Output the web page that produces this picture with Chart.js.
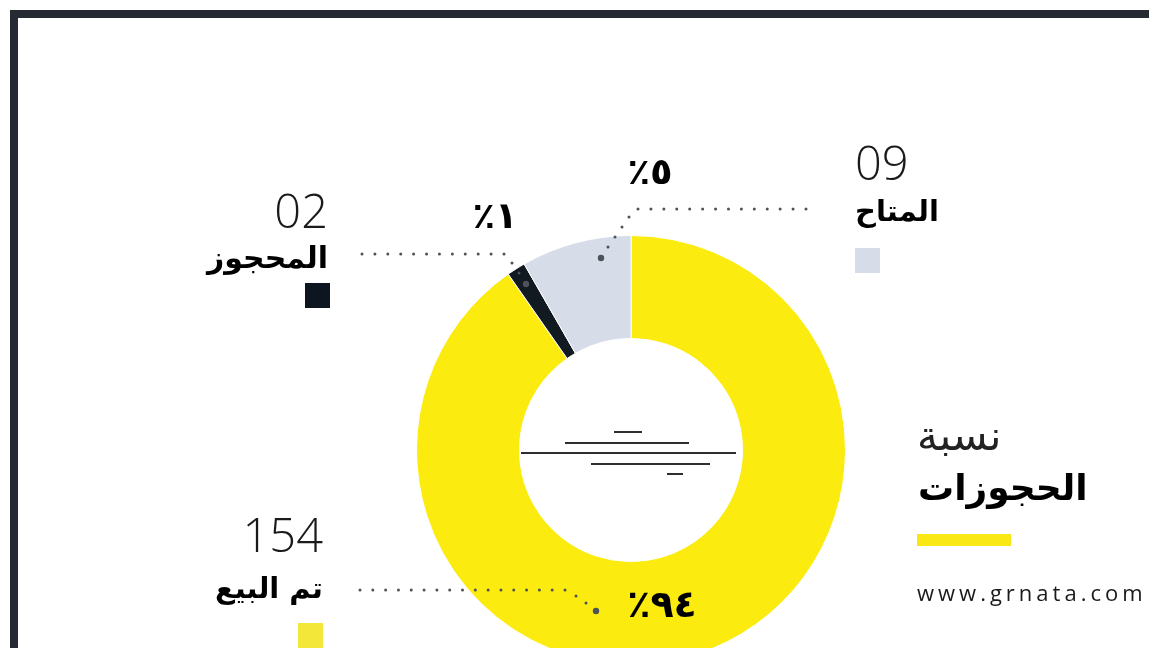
<!DOCTYPE html>
<html>
<head>
<meta charset="utf-8">
<script src="https://cdn.jsdelivr.net/npm/chart.js@4"></script>
<style>
  html, body { margin: 0; padding: 0; background: #fff; overflow: hidden; }
  #wrap { position: absolute; left: 0; top: 0; width: 1149px; height: 700px; }
</style>
</head>
<body>
<div id="wrap"><canvas id="chart"></canvas></div>
<script>
// data
const categories = ['تم البيع', 'المحجوز', 'المتاح'];
const counts = ['154', '02', '09'];
const percentLabels = ['٪٩٤', '٪١', '٪٥'];
// share of the ring each slice takes as drawn
const sliceShares = [90.3, 1.4, 8.3];
const sliceColors = ['#FBEB0E', '#111921', '#D6DCE8'];
const legendColors = ['#F3E839', '#0D1520', '#D6DCE8'];

const ARABIC = '"DejaVu Sans", sans-serif';
const LATIN = '"Open Sans", "DejaVu Sans", sans-serif';

// where each slice's legend block and leader sit
const legendLayout = [
  { x: 323, numY: 552, nameY: 598, nameSize: 29, align: 'right', sq: [298, 623], pct: [662, 605], pctSize: 38,
    dots: [[360, 590], [565, 590]], bend: [[576, 596], [586, 603]], end: [596, 611] },
  { x: 328, numY: 228, nameY: 268, nameSize: 30, align: 'right', sq: [305, 283], pct: [495, 216], pctSize: 37,
    dots: [[362, 254], [504, 254]], bend: [[512, 263], [519, 273]], end: [526, 284] },
  { x: 855, numY: 180, nameY: 221, nameSize: 29, align: 'left', sq: [855, 248], pct: [650, 172], pctSize: 37,
    dots: [[638, 209], [806, 209]], bend: [[629, 217], [622, 227], [615, 237], [608, 247]], end: [601, 258] }
];

const decor = {
  id: 'decor',
  afterDraw(chart) {
    const ctx = chart.ctx;
    ctx.save();

    // frame
    ctx.fillStyle = '#262B33';
    ctx.fillRect(10, 10, 1139, 8);
    ctx.fillRect(10, 10, 8, 700);

    // lines in the hole
    const arc = chart.getDatasetMeta(0).data[0];
    const cx = arc.x, cy = arc.y;
    ctx.strokeStyle = '#2E2E2E';
    ctx.lineWidth = 2;
    [[-17, 11, -18], [-66, 58, -7], [-110, 105, 3], [-40, 79, 14], [36, 52, 24]].forEach(l => {
      ctx.beginPath();
      ctx.moveTo(cx + l[0], cy + l[2]);
      ctx.lineTo(cx + l[1], cy + l[2]);
      ctx.stroke();
    });

    // legend blocks, leaders, percentages
    legendLayout.forEach((L, i) => {
      ctx.textAlign = L.align;
      ctx.textBaseline = 'alphabetic';
      ctx.fillStyle = '#1a1a1a';
      ctx.font = '300 47px ' + LATIN;
      ctx.fillText(counts[i], L.x, L.numY);
      ctx.fillStyle = '#000';
      ctx.font = 'bold ' + L.nameSize + 'px ' + ARABIC;
      ctx.fillText(categories[i], L.x, L.nameY);
      ctx.fillStyle = legendColors[i];
      ctx.fillRect(L.sq[0], L.sq[1], 25, 25);

      ctx.fillStyle = '#4d5258';
      const [a, b] = L.dots;
      const n = Math.round(Math.abs(b[0] - a[0]) / 12.8);
      for (let k = 0; k <= n; k++) {
        ctx.beginPath();
        ctx.arc(a[0] + (b[0] - a[0]) * k / n, a[1], 1.5, 0, Math.PI * 2);
        ctx.fill();
      }
      L.bend.forEach(p => {
        ctx.beginPath();
        ctx.arc(p[0], p[1], 1.5, 0, Math.PI * 2);
        ctx.fill();
      });
      ctx.beginPath();
      ctx.arc(L.end[0], L.end[1], 3.2, 0, Math.PI * 2);
      ctx.fill();

      ctx.fillStyle = '#000';
      ctx.textAlign = 'center';
      ctx.font = 'bold ' + L.pctSize + 'px ' + ARABIC;
      ctx.letterSpacing = '3px';
      ctx.fillText(percentLabels[i], L.pct[0], L.pct[1] + 12);
      ctx.letterSpacing = '0px';
    });

    // title block on the right
    ctx.textAlign = 'left';
    ctx.fillStyle = '#222';
    ctx.font = '42px ' + ARABIC;
    ctx.fillText('نسبة', 917, 450);
    ctx.fillStyle = '#000';
    ctx.font = 'bold 36px ' + ARABIC;
    ctx.fillText('الحجوزات', 918, 500);
    ctx.fillStyle = '#F9E814';
    ctx.fillRect(917, 534, 94, 12);
    ctx.fillStyle = '#1a1a1a';
    ctx.font = '22px ' + LATIN;
    ctx.letterSpacing = '4px';
    ctx.fillText('www.grnata.com', 917, 601);

    ctx.restore();
  }
};

new Chart(document.getElementById('chart'), {
  type: 'doughnut',
  data: {
    labels: categories,
    datasets: [{
      data: sliceShares,
      backgroundColor: sliceColors,
      borderColor: '#ffffff',
      borderWidth: 1
    }]
  },
  options: {
    responsive: true,
    maintainAspectRatio: false,
    animation: false,
    cutout: '52%',
    layout: { padding: { left: 416, right: 303, top: 235, bottom: 35 } },
    plugins: { legend: { display: false }, tooltip: { enabled: false } }
  },
  plugins: [decor]
});
</script>
</body>
</html>
